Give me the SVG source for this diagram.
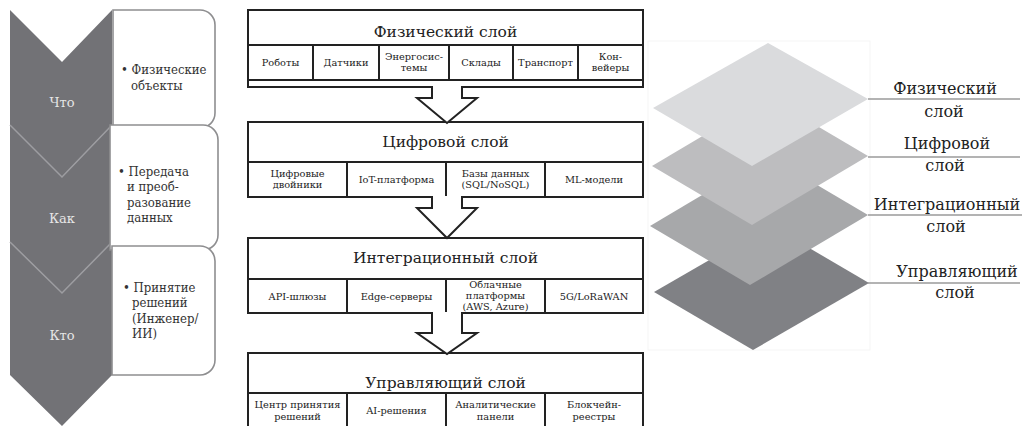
<svg xmlns="http://www.w3.org/2000/svg" width="1026" height="426" viewBox="0 0 1026 426">
<style>
text{font-family:"DejaVu Serif","Liberation Serif",serif}
.chev{fill:#727276}
.vline{fill:none;stroke:#9d9da1;stroke-width:1.5}
.clabel{fill:#e6e6e6;font-size:13px;text-anchor:middle}
.box{fill:#fff;stroke:#8e8e90;stroke-width:1.6}
.btext{fill:#333;font-size:13px;font-family:"DejaVu Serif Condensed","DejaVu Serif","Liberation Serif",serif;font-stretch:condensed}
.frame{fill:#fff;stroke:#222;stroke-width:2}
.ln{stroke:#222;stroke-width:2}
.title{fill:#222;font-size:15.5px;text-anchor:middle}
.cell{fill:#222;font-size:9.8px;text-anchor:middle}
.arrow{fill:#fff;stroke:#222;stroke-width:2;stroke-linejoin:miter}
.lbl{fill:#222;font-size:16px;text-anchor:middle}
.lead{stroke:#9a9a9a;stroke-width:1.5}
</style>

<!-- Left: chevron list -->
<g id="chevron-what">
  <polygon class="chev" points="10,10 62,62 112,10 112,125 62,177 10,125"/>
  <text class="clabel" x="62" y="107">Что</text>
</g>
<g id="chevron-how">
  <polygon class="chev" points="10,125 62,177 112,125 112,242 62,293 10,242"/>
  <polyline class="vline" points="10,125 62,177 112,125"/>
  <text class="clabel" x="62" y="223">Как</text>
</g>
<g id="chevron-who">
  <polygon class="chev" points="10,242 62,293 112,242 112,375 62,426 10,375"/>
  <polyline class="vline" points="10,242 62,293 112,242"/>
  <text class="clabel" x="62" y="340">Кто</text>
</g>

<g id="box-what">
  <path class="box" d="M113,10 H200 A15,15 0 0 1 215,25 V113 A15,15 0 0 1 200,128 H113 Z"/>
  <text class="btext"><tspan x="121" y="74">• Физические</tspan><tspan x="131" y="90">объекты</tspan></text>
</g>
<g id="box-how">
  <path class="box" d="M110,125 H203 A15,15 0 0 1 218,140 V235 A15,15 0 0 1 203,250 H110 Z"/>
  <text class="btext"><tspan x="118" y="176">• Передача</tspan><tspan x="127" y="191">и преоб-</tspan><tspan x="127" y="207">разование</tspan><tspan x="127" y="222">данных</tspan></text>
</g>
<g id="box-who">
  <path class="box" d="M112,246 H200 A15,15 0 0 1 215,261 V360 A15,15 0 0 1 200,375 H112 Z"/>
  <text class="btext"><tspan x="123" y="292">• Принятие</tspan><tspan x="132" y="307">решений</tspan><tspan x="132" y="323">(Инженер/</tspan><tspan x="132" y="338">ИИ)</tspan></text>
</g>

<!-- Middle: layer stack -->
<g id="layer-physical">
  <rect class="frame" x="248" y="10" width="395" height="77"/>
  <line class="ln" x1="248" y1="45" x2="643" y2="45"/>
  <line class="ln" x1="248" y1="80" x2="643" y2="80"/>
  <line class="ln" x1="313" y1="45" x2="313" y2="80"/>
  <line class="ln" x1="379" y1="45" x2="379" y2="80"/>
  <line class="ln" x1="449" y1="45" x2="449" y2="80"/>
  <line class="ln" x1="513" y1="45" x2="513" y2="80"/>
  <line class="ln" x1="578" y1="45" x2="578" y2="80"/>
  <text class="title" x="445.5" y="37">Физический слой</text>
  <text class="cell" x="280.5" y="66">Роботы</text>
  <text class="cell" x="346" y="66">Датчики</text>
  <text class="cell"><tspan x="414" y="60">Энергосис-</tspan><tspan x="414" y="71">темы</tspan></text>
  <text class="cell" x="481" y="66">Склады</text>
  <text class="cell" x="545.5" y="66">Транспорт</text>
  <text class="cell"><tspan x="610.5" y="60">Кон-</tspan><tspan x="610.5" y="71">вейеры</tspan></text>
</g>
<g id="layer-digital">
  <rect class="frame" x="248" y="122" width="395" height="75"/>
  <line class="ln" x1="248" y1="162" x2="643" y2="162"/>
  <line class="ln" x1="347" y1="162" x2="347" y2="197"/>
  <line class="ln" x1="446" y1="162" x2="446" y2="197"/>
  <line class="ln" x1="545" y1="162" x2="545" y2="197"/>
  <text class="title" x="445.5" y="147">Цифровой слой</text>
  <text class="cell"><tspan x="297.5" y="177">Цифровые</tspan><tspan x="297.5" y="188">двойники</tspan></text>
  <text class="cell" x="396.5" y="183">IoT-платформа</text>
  <text class="cell"><tspan x="495.5" y="177">Базы данных</tspan><tspan x="495.5" y="188">(SQL/NoSQL)</tspan></text>
  <text class="cell" x="594" y="183">ML-модели</text>
</g>
<g id="layer-integration">
  <rect class="frame" x="248" y="238" width="395" height="75"/>
  <line class="ln" x1="248" y1="279" x2="643" y2="279"/>
  <line class="ln" x1="347" y1="279" x2="347" y2="313"/>
  <line class="ln" x1="446" y1="279" x2="446" y2="313"/>
  <line class="ln" x1="545" y1="279" x2="545" y2="313"/>
  <text class="title" x="445.5" y="263">Интеграционный слой</text>
  <text class="cell" x="297.5" y="300">API-шлюзы</text>
  <text class="cell" x="396.5" y="300">Edge-серверы</text>
  <text class="cell"><tspan x="495.5" y="288">Облачные</tspan><tspan x="495.5" y="299">платформы</tspan><tspan x="495.5" y="310">(AWS, Azure)</tspan></text>
  <text class="cell" x="594" y="300">5G/LoRaWAN</text>
</g>
<g id="layer-control">
  <rect class="frame" x="248" y="353" width="395" height="80"/>
  <line class="ln" x1="248" y1="393" x2="643" y2="393"/>
  <line class="ln" x1="347" y1="393" x2="347" y2="430"/>
  <line class="ln" x1="446" y1="393" x2="446" y2="430"/>
  <line class="ln" x1="545" y1="393" x2="545" y2="430"/>
  <text class="title" x="445.5" y="388">Управляющий слой</text>
  <text class="cell"><tspan x="297.5" y="408">Центр принятия</tspan><tspan x="297.5" y="420">решений</tspan></text>
  <text class="cell" x="396.5" y="414">AI-решения</text>
  <text class="cell"><tspan x="495.5" y="408">Аналитические</tspan><tspan x="495.5" y="420">панели</tspan></text>
  <text class="cell"><tspan x="594" y="408">Блокчейн-</tspan><tspan x="594" y="420">реестры</tspan></text>
</g>

<g id="connectors">
  <path class="arrow" d="M432,86 V98 H417 L447,123 L477,98 H462 V86"/>
  <path class="arrow" d="M432,196 V208 H417 L447,238 L477,208 H462 V196"/>
  <path class="arrow" d="M432,312 V333 H417 L447,354 L477,333 H462 V312"/>
</g>

<!-- Right: stacked planes -->
<g id="planes">
  <rect x="648" y="41" width="222" height="309" fill="none" stroke="#f5f5f5" stroke-width="1"/>
  <polygon fill="#808185" points="770,225 869,283 753,350 654,292"/>
  <polygon fill="#a7a8aa" points="768,156 868,215 750,285 650,226"/>
  <polygon fill="#bdbdbf" points="768,97 868,156 752,225 652,166"/>
  <polygon fill="#dadbdd" points="768,43 868,99 752,166 653,108"/>
</g>
<g id="label-physical">
  <line class="lead" x1="868" y1="99" x2="1020" y2="99"/>
  <text class="lbl"><tspan x="945" y="94">Физический</tspan><tspan x="944" y="117">слой</tspan></text>
</g>
<g id="label-digital">
  <line class="lead" x1="868" y1="157" x2="1020" y2="157"/>
  <text class="lbl"><tspan x="947" y="149">Цифровой</tspan><tspan x="945" y="171">слой</tspan></text>
</g>
<g id="label-integration">
  <line class="lead" x1="868" y1="215" x2="1022" y2="215"/>
  <text class="lbl"><tspan x="947" y="210">Интеграционный</tspan><tspan x="946" y="232">слой</tspan></text>
</g>
<g id="label-control">
  <line class="lead" x1="868" y1="283" x2="1020" y2="283"/>
  <text class="lbl"><tspan x="957" y="277">Управляющий</tspan><tspan x="955" y="298">слой</tspan></text>
</g>
</svg>
